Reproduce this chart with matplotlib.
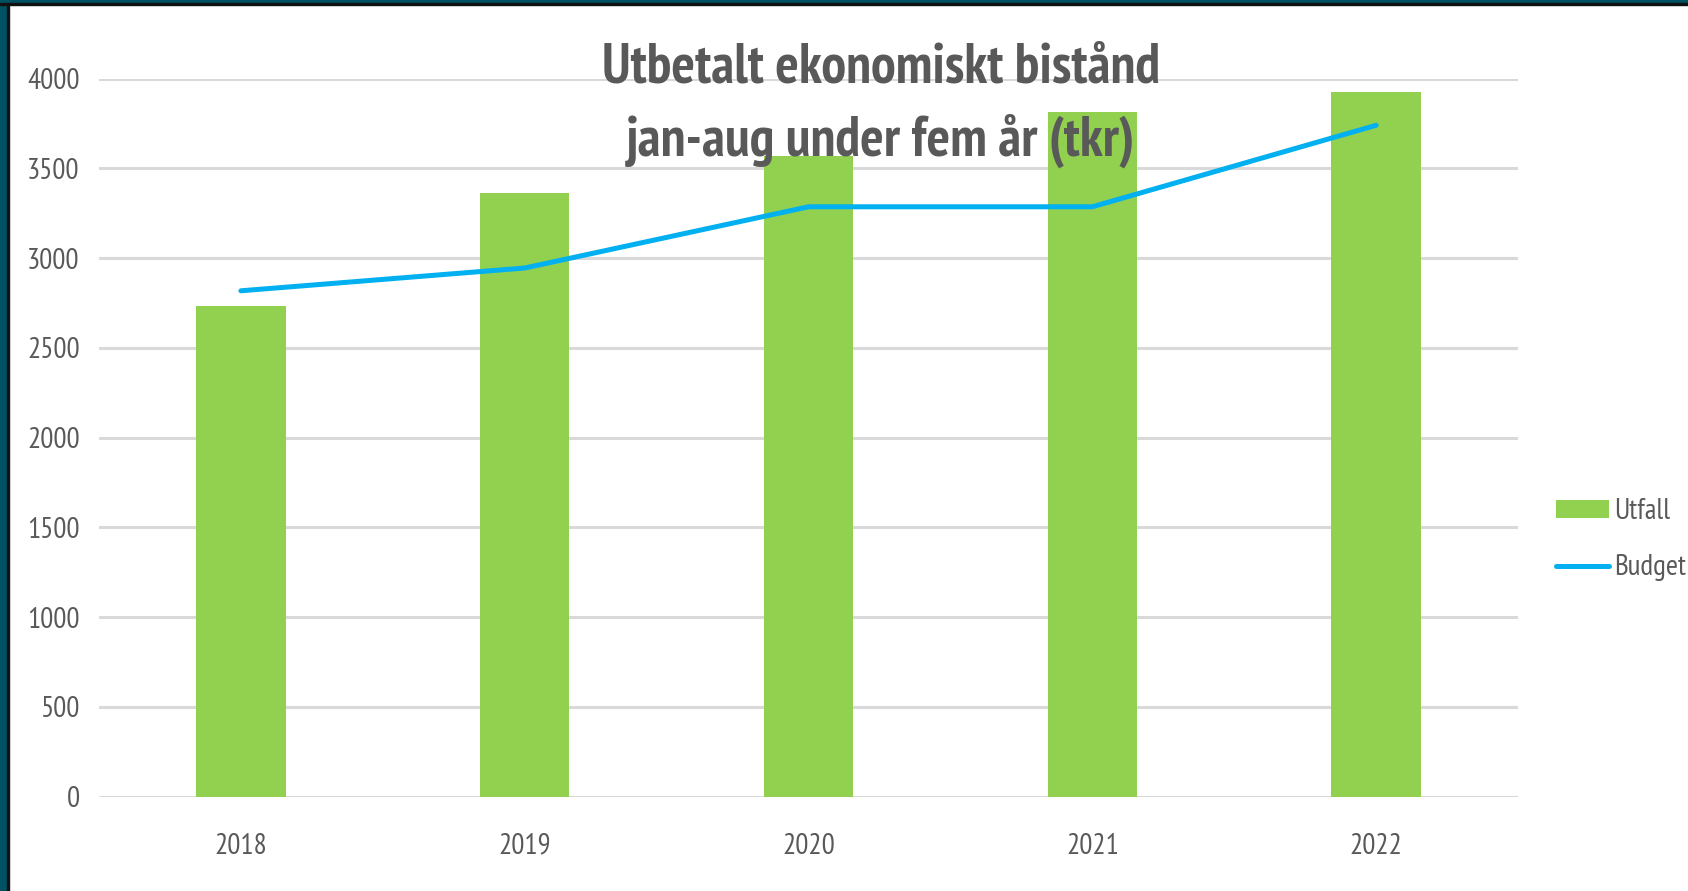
import matplotlib.pyplot as plt
from matplotlib.patches import Rectangle

years = ['2018', '2019', '2020', '2021', '2022']
utfall = [2732, 3365, 3568, 3815, 3925]
budget = [2818, 2945, 3286, 3286, 3740]
yticks = [0, 500, 1000, 1500, 2000, 2500, 3000, 3500, 4000]

plt.rcParams['font.family'] = ['PT Sans Narrow', 'DejaVu Sans']

W, H = 1688, 891
fig = plt.figure(figsize=(W / 100, H / 100), dpi=100)
ax = fig.add_axes([99 / W, 1 - 796.7 / H, (1518 - 99) / W, (796.7 - 78.6) / H])

x = range(len(years))
bars = ax.bar(x, utfall, width=0.315, color='#92D050', label='Utfall', zorder=2)
line, = ax.plot(x, budget, color='#00B0F0', linewidth=3.6, solid_capstyle='round', label='Budget', zorder=3)

ax.set_xlim(-0.5, 4.5)
ax.set_ylim(0, 4000)
ax.set_yticks(yticks)
ax.set_xticks(list(x))
ax.set_xticklabels(years)
ax.yaxis.grid(True, color='#D9D9D9', linewidth=2.2, zorder=0)
ax.set_axisbelow(True)
for s in ax.spines.values():
    s.set_visible(False)
ax.tick_params(length=0, labelsize=21, labelcolor='#595959')
ax.tick_params(axis='y', pad=14)
ax.tick_params(axis='x', pad=26)

fig.text(881 / W, 1 - 68 / H, 'Utbetalt ekonomiskt bistånd', ha='center', va='center',
         fontsize=40, fontweight='bold', color='#595959')
fig.text(880 / W, 1 - 141 / H, 'jan-aug under fem år (tkr)', ha='center', va='center',
         fontsize=40, fontweight='bold', color='#595959')

leg = fig.legend([bars, line], ['Utfall', 'Budget'], loc='upper left', bbox_to_anchor=(1530 / W, 1 - 472 / H),
                 frameon=False, fontsize=21, labelspacing=1.0, handlelength=1.8, handleheight=0.6,
                 handletextpad=0.2)
for t in leg.get_texts():
    t.set_color('#595959')

# border on top and left
fig.patches.append(Rectangle((0, 0), 7 / W, 1, transform=fig.transFigure, color='#005263', zorder=10))
fig.patches.append(Rectangle((7 / W, 0), 2 / W, 1, transform=fig.transFigure, color='#111111', zorder=10))
fig.patches.append(Rectangle((0, 1 - 2.5 / H), 1, 2.5 / H, transform=fig.transFigure, color='#005263', zorder=10))
fig.patches.append(Rectangle((0, 1 - 4.5 / H), 1, 2 / H, transform=fig.transFigure, color='#111111', zorder=10))

fig.savefig('out.png', dpi=100)
